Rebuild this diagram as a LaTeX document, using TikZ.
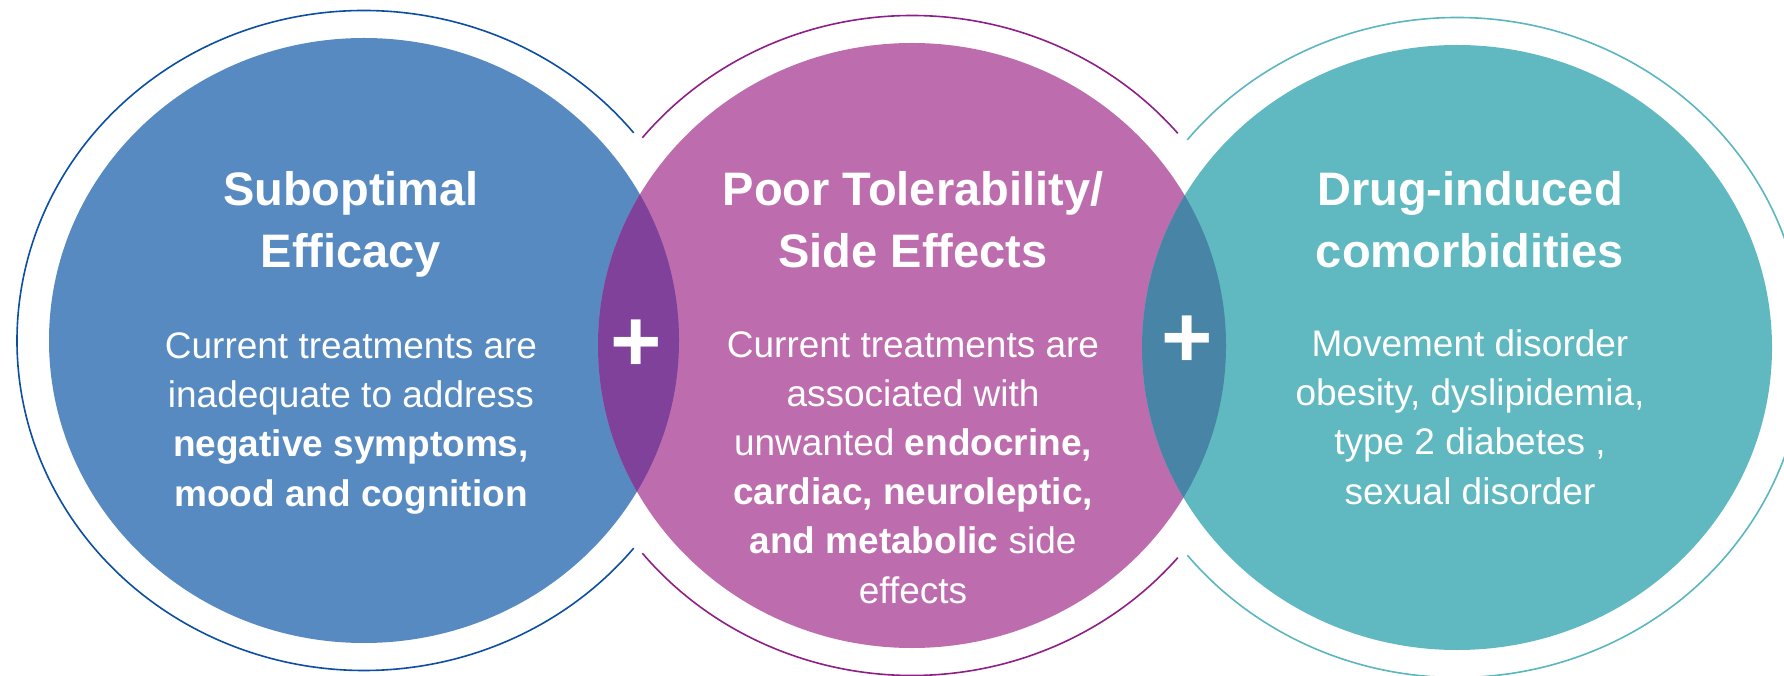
\documentclass[tikz,border=0pt]{standalone}
\usepackage{fontspec}
\setmainfont{Liberation Sans}
\definecolor{effblue}{HTML}{578AC1}
\definecolor{effring}{HTML}{0B4EA2}
\definecolor{tolpink}{HTML}{BD6DAE}
\definecolor{tolring}{HTML}{8E1F87}
\definecolor{comteal}{HTML}{60B8C1}
\definecolor{comring}{HTML}{5AB6BF}
\definecolor{overpurple}{HTML}{7F4199}
\definecolor{overteal}{HTML}{4784A6}
\tikzset{
  headtext/.style={font=\fontsize{47}{62}\selectfont\bfseries, text=white,
    align=center, anchor=base, inner sep=0pt},
  bodytext/.style={font=\fontsize{37}{49.2}\selectfont, text=white,
    align=center, anchor=base, inner sep=0pt},
  plussign/.style={font=\fontsize{88}{88}\selectfont\bfseries, text=white,
    inner sep=0pt},
  ringline/.style={line width=1.6pt}
}

\begin{document}
\begin{tikzpicture}[x=1pt, y=1pt]
    \clip (0,0) rectangle (1784,675);
    % Centres of the three bands
    \coordinate (effc) at (364,334.5);
    \coordinate (tolc) at (912,329.5);
    \coordinate (comc) at (1457,327.5);
    % Filled ellipses
    \fill[effblue] (effc) ellipse [x radius=315, y radius=302.5];
    \fill[tolpink] (tolc) ellipse [x radius=314, y radius=302.5];
    \fill[comteal] (comc) ellipse [x radius=315, y radius=302.5];
    % Overlaps
    \begin{scope}
      \clip (effc) ellipse [x radius=315, y radius=302.5];
      \fill[overpurple] (tolc) ellipse [x radius=314, y radius=302.5];
    \end{scope}
    \begin{scope}
      \clip (tolc) ellipse [x radius=314, y radius=302.5];
      \fill[overteal] (comc) ellipse [x radius=315, y radius=302.5];
    \end{scope}
    % Outer rings
    \draw[effring, ringline] (effc) ++(39:347 and 330)
      arc [start angle=39, end angle=321, x radius=347, y radius=330];
    \draw[tolring, ringline] (tolc) ++(40:347 and 330)
      arc [start angle=40, end angle=141, x radius=347, y radius=330];
    \draw[tolring, ringline] (tolc) ++(219:347 and 330)
      arc [start angle=219, end angle=320, x radius=347, y radius=330];
    \draw[comring, ringline] (comc) ++(141:347 and 330)
      arc [start angle=141, end angle=-141, x radius=347, y radius=330];
    % Suboptimal efficacy
    \node[headtext] (efftitle) at (351,407) {Suboptimal\\Efficacy};
    \node[bodytext] (efftext) at (351,169)
      {Current treatments are\\inadequate to address\\
       \textbf{negative symptoms,}\\\textbf{mood and cognition}};
    % Poor tolerability
    \node[headtext] (toltitle) at (913,407) {Poor Tolerability/\\Side Effects};
    \node[bodytext] (toltext) at (913,72)
      {Current treatments are\\associated with\\
       unwanted \textbf{endocrine,}\\\textbf{cardiac, neuroleptic,}\\
       \textbf{and metabolic} side\\effects};
    % Drug-induced comorbidities
    \node[headtext] (comtitle) at (1470,407) {Drug-induced\\comorbidities};
    \node[bodytext] (comtext) at (1470,171)
      {Movement disorder\\obesity, dyslipidemia,\\type 2 diabetes ,\\
       sexual disorder};
    % Plus signs
    \node[plussign] (plusa) at (636.5,329) {+};
    \node[plussign] (plusb) at (1187,333.5) {+};
  \end{tikzpicture}
\end{document}
